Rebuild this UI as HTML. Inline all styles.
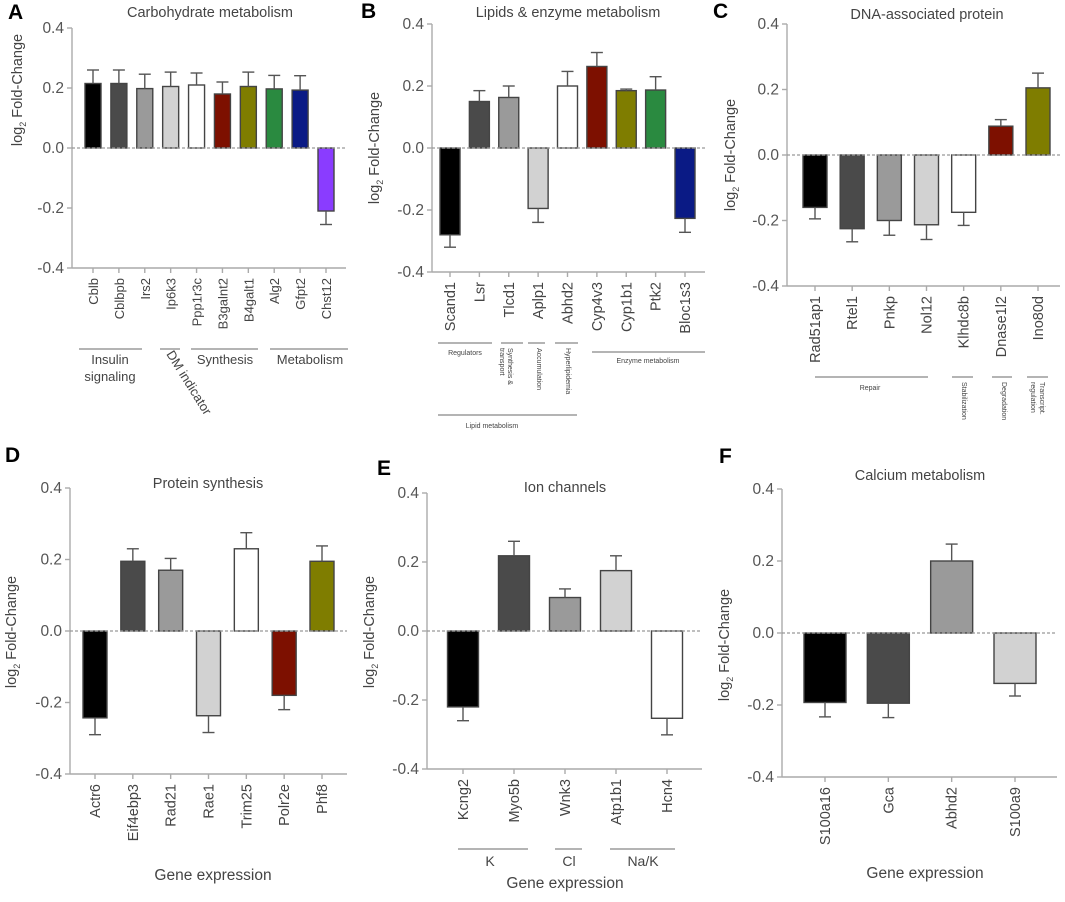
<!DOCTYPE html>
<html><head><meta charset="utf-8"><style>
html,body{margin:0;padding:0;background:#fff;}
svg{display:block;font-family:"Liberation Sans",sans-serif;}
</style></head><body>
<svg id="fig" width="1065" height="902" viewBox="0 0 1065 902"></svg>
<script>
const ticks = [0.4, 0.2, 0.0, -0.2, -0.4];
const tickLabels = ["0.4","0.2","0.0","-0.2","-0.4"];
const palette = ["#000000","#4a4a4a","#9a9a9a","#d2d2d2","#ffffff","#7d1000","#7f7d00","#2a8a40","#0a1a85","#8a3cff"];

const aGenes = ["Cblb","Cblbpb","Irs2","Ip6k3","Ppp1r3c","B3galnt2","B4galt1","Alg2","Gfpt2","Chst12"];
const aValues = [0.215,0.215,0.198,0.205,0.21,0.18,0.205,0.197,0.193,-0.21];
const aErrors = [0.045,0.045,0.048,0.048,0.04,0.04,0.048,0.045,0.048,0.045];

const bGenes = ["Scand1","Lsr","Tlcd1","Aplp1","Abhd2","Cyp4v3","Cyp1b1","Ptk2","Bloc1s3"];
const bValues = [-0.28,0.15,0.163,-0.195,0.2,0.263,0.185,0.187,-0.227];
const bErrors = [0.04,0.035,0.037,0.045,0.047,0.045,0.005,0.043,0.045];

const cGenes = ["Rad51ap1","Rtel1","Pnkp","Nol12","Klhdc8b","Dnase1l2","Ino80d"];
const cValues = [-0.16,-0.225,-0.2,-0.213,-0.175,0.088,0.205];
const cErrors = [0.035,0.04,0.045,0.045,0.04,0.02,0.045];

const dGenes = ["Actr6","Eif4ebp3","Rad21","Rae1","Trim25","Polr2e","Phf8"];
const dValues = [-0.243,0.195,0.17,-0.237,0.23,-0.18,0.195];
const dErrors = [0.047,0.035,0.033,0.047,0.045,0.04,0.043];

const eGenes = ["Kcng2","Myo5b","Wnk3","Atp1b1","Hcn4"];
const eValues = [-0.22,0.218,0.097,0.175,-0.253];
const eErrors = [0.04,0.042,0.025,0.043,0.048];

const fGenes = ["S100a16","Gca","Abhd2","S100a9"];
const fValues = [-0.193,-0.195,0.2,-0.14];
const fErrors = [0.04,0.04,0.047,0.035];

const NS = "http://www.w3.org/2000/svg";
const svg = document.getElementById("fig");
function mk(tag, attrs, parent, text){
  const e = document.createElementNS(NS, tag);
  for (const k in attrs) e.setAttribute(k, attrs[k]);
  if (text !== undefined) e.textContent = text;
  (parent || svg).appendChild(e);
  return e;
}

function panel(key, g, cfg){
  const grp = mk("g", {}, svg);
  
  
  const yScale = v => cfg.yZero - v * (cfg.yZero - cfg.yTop) / 0.4;
  const n = g.genes.length;
  const xScale = i => cfg.c0 + i * (cfg.c1 - cfg.c0) / (n - 1);
  const L = mk("text", {x:cfg.lx, y:cfg.ly, "font-size":21, "font-weight":"bold", fill:"#000"}, grp, key.toUpperCase());
  
  
  const T = mk("text", {x:cfg.tx, y:cfg.ty, "font-size":14.5, fill:"#444", "text-anchor":"middle"}, grp, cfg.title);
  
  
  const yb = yScale(-0.4);
  const ax = mk("line", {x1:cfg.ax, y1:yScale(0.4), x2:cfg.ax, y2:yb, stroke:"#aaa", "stroke-width":1.4}, grp);
  
  
  const xa = mk("line", {x1:cfg.ax, y1:yb, x2:cfg.xr, y2:yb, stroke:"#aaa", "stroke-width":1.4}, grp);
  
  
  ticks.forEach((t, i) => {
    const y = yScale(t);
    mk("line", {x1:cfg.ax-5, y1:y, x2:cfg.ax, y2:y, stroke:"#aaa", "stroke-width":1.4}, grp);
    const tl = mk("text", {x:cfg.ax-8, y:y+5, "font-size":15.5, fill:"#555", "text-anchor":"end"}, grp, tickLabels[i]);
    
    
  });
  const yt = mk("text", {transform:`translate(${cfg.ytx},${cfg.yty}) rotate(-90)`, "font-size":14.5, fill:"#444", "text-anchor":"middle"}, grp);
  
  
  mk("tspan", {}, yt, "log");
  mk("tspan", {dy:4, "font-size":9}, yt, "2");
  mk("tspan", {dy:-4}, yt, " Fold-Change");
  g.vals.forEach((v, i) => {
    const cx = xScale(i);
    const y0 = yScale(0), y1 = yScale(v);
    const b = mk("rect", {x:cx-cfg.bw/2, y:Math.min(y0,y1), width:cfg.bw, height:Math.abs(y1-y0), fill:palette[i], stroke:"#444", "stroke-width":1.4}, grp);
    
    
    const ye = yScale(v + (v >= 0 ? 1 : -1) * g.errs[i]);
    const e1 = mk("line", {x1:cx, y1:y1, x2:cx, y2:ye, stroke:"#555", "stroke-width":1.4}, grp);
    
    
    mk("line", {x1:cx-6, y1:ye, x2:cx+6, y2:ye, stroke:"#555", "stroke-width":1.4}, grp);
    mk("line", {x1:cx, y1:yb, x2:cx, y2:yb+5, stroke:"#aaa", "stroke-width":1.4}, grp);
    const lt = mk("text", {transform:`translate(${cx+5},${yb+10}) rotate(-90)`, "font-size":cfg.lf, fill:"#444", "text-anchor":"end"}, grp, g.genes[i]);
    
    
  });
  const z = mk("line", {x1:cfg.ax, y1:yScale(0), x2:cfg.xr, y2:yScale(0), stroke:"#999", "stroke-width":1.2, "stroke-dasharray":"3,2"}, grp);
  
  
  if (cfg.xt){
    const x = mk("text", {x:cfg.xt[0], y:cfg.xt[1], "font-size":15.5, fill:"#444", "text-anchor":"middle"}, grp, "Gene expression");
    
    
  }
  return grp;
}

panel("a", {genes:aGenes, vals:aValues, errs:aErrors}, {lx:8,ly:19,tx:210,ty:17,title:"Carbohydrate metabolism",ax:72,yTop:28,yZero:148,xr:346,c0:93,c1:326,bw:16,lf:13,ytx:22,yty:90});
panel("b", {genes:bGenes, vals:bValues, errs:bErrors}, {lx:361,ly:18,tx:568,ty:17,title:"Lipids & enzyme metabolism",ax:432,yTop:24,yZero:148,xr:705,c0:450,c1:685,bw:20,lf:14.5,ytx:379,yty:148});
panel("c", {genes:cGenes, vals:cValues, errs:cErrors}, {lx:713,ly:18,tx:927,ty:19,title:"DNA-associated protein",ax:787,yTop:24,yZero:155,xr:1060,c0:815,c1:1038,bw:24,lf:14.5,ytx:735,yty:155});
panel("d", {genes:dGenes, vals:dValues, errs:dErrors}, {lx:5,ly:462,tx:208,ty:488,title:"Protein synthesis",ax:70,yTop:488,yZero:631,xr:347,c0:95,c1:322,bw:24,lf:14.5,ytx:16,yty:632,xt:[213,880]});
panel("e", {genes:eGenes, vals:eValues, errs:eErrors}, {lx:377,ly:475,tx:565,ty:492,title:"Ion channels",ax:427,yTop:493,yZero:631,xr:702,c0:463,c1:667,bw:31,lf:14.5,ytx:374,yty:632,xt:[565,888]});
panel("f", {genes:fGenes, vals:fValues, errs:fErrors}, {lx:719,ly:463,tx:920,ty:480,title:"Calcium metabolism",ax:782,yTop:489,yZero:633,xr:1057,c0:825,c1:1015,bw:42,lf:14.5,ytx:729,yty:645,xt:[925,878]});

function gl(x1,x2,y,name){
  const l = mk("line",{x1:x1,y1:y,x2:x2,y2:y,stroke:"#888","stroke-width":1.3});
  
  
}
function gt(x,y,s,fs,name,rot){
  const t = mk("text",{x:x,y:y,"font-size":fs,fill:"#444","text-anchor":rot!==undefined?"start":"middle",transform:rot!==undefined?`rotate(${rot} ${x} ${y})`:""},svg,s);
  
  
}
gl(79,142,349,'group-line-insulin'); gt(110,364,"Insulin",13,'group-label-insulin'); gt(110,381,"signaling",13,'group-label-insulin-2');
gl(160,180,349,'group-line-dm'); gt(166,354,"DM indicator",13,'group-label-dm',58);
gl(191,258,349,'group-line-synthesis'); gt(225,364,"Synthesis",13,'group-label-synthesis');
gl(270,348,349,'group-line-metabolism'); gt(310,364,"Metabolism",13,'group-label-metabolism');

gl(438,492,343,'group-line-regulators'); gt(465,355,"Regulators",7,'group-label-regulators');
gl(501,523,343,'group-line-synthesis-transport'); gt(508,348,"Synthesis &",7,'group-label-synth',90); gt(500,348,"transport",7,'group-label-transport',90);
gl(528,545,343,'group-line-accumulation'); gt(537,348,"Accumulation",7,'group-label-accumulation',90);
gl(555,578,343,'group-line-hyperlipidemia'); gt(566,348,"Hyperlipidemia",7,'group-label-hyperlipidemia',90);
gl(592,705,352,'group-line-enzyme'); gt(648,363,"Enzyme metabolism",7,'group-label-enzyme');
gl(438,577,415,'group-line-lipid'); gt(492,428,"Lipid metabolism",7,'group-label-lipid');

gl(815,928,377,'group-line-repair'); gt(870,390,"Repair",7,'group-label-repair');
gl(952,973,377,'group-line-stabilization'); gt(962,382,"Stabilization",7,'group-label-stabilization',90);
gl(992,1012,377,'group-line-degradation'); gt(1002,382,"Degradation",7,'group-label-degradation',90);
gl(1027,1048,377,'group-line-transcript'); gt(1040,382,"Transcript.",7,'group-label-transcript',90); gt(1031,382,"regulation",7,'group-label-regulation',90);

gl(458,528,849,'group-line-k'); gt(490,866,"K",14,'group-label-k');
gl(555,582,849,'group-line-cl'); gt(569,866,"Cl",14,'group-label-cl');
gl(610,675,849,'group-line-nak'); gt(643,866,"Na/K",14,'group-label-nak');
</script>
</body></html>
